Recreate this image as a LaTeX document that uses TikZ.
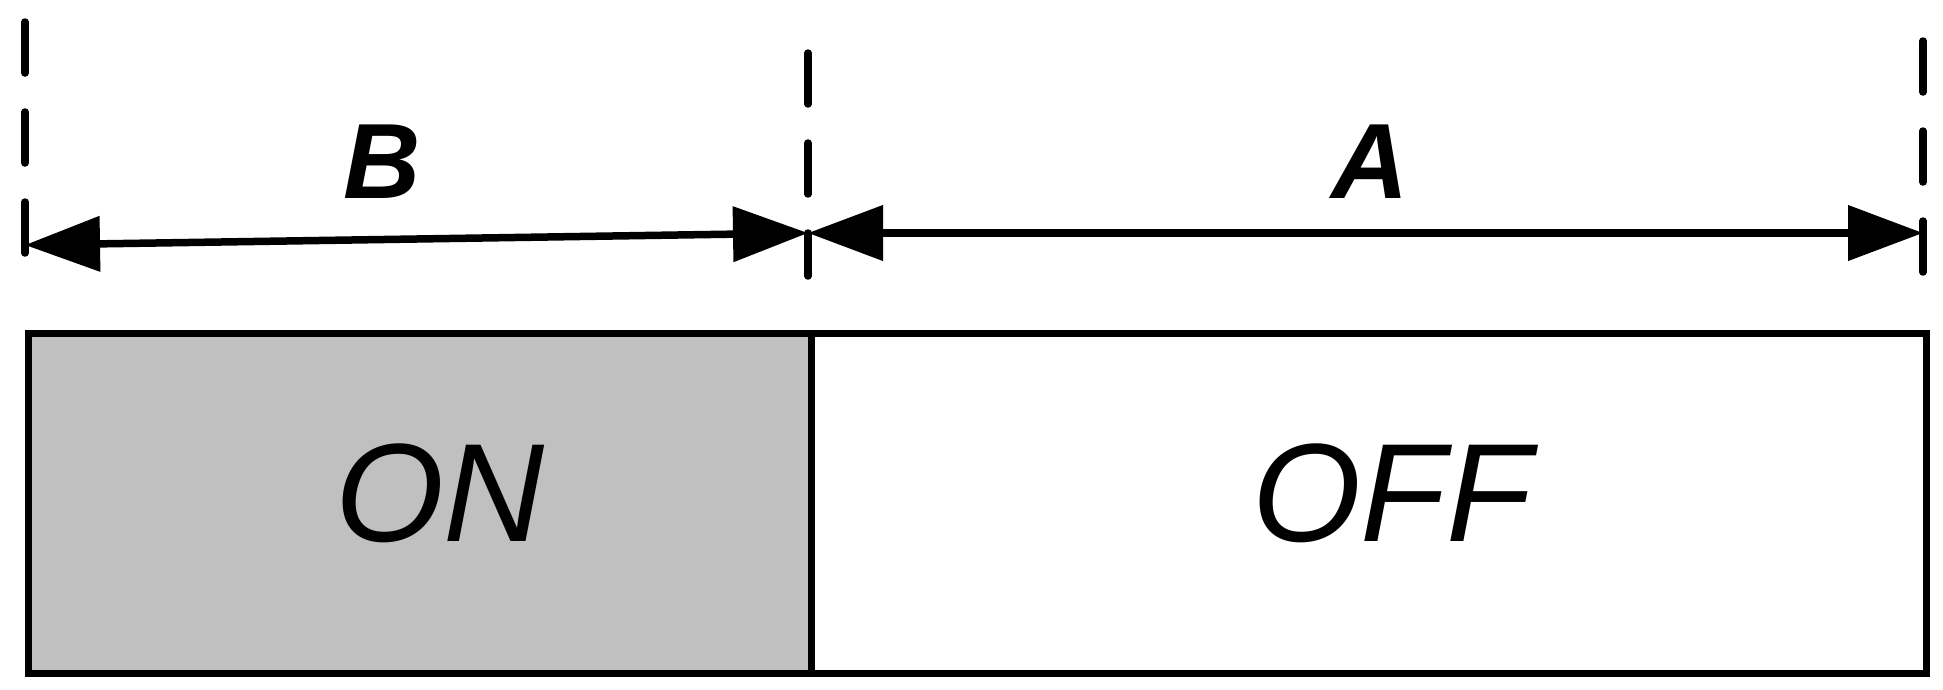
\documentclass[tikz,border=0pt]{standalone}
\usepackage{fontspec}
\setmainfont{Liberation Sans}
\usetikzlibrary{arrows.meta}
\definecolor{onGray}{HTML}{C0C0C0}
\begin{document}
\begin{tikzpicture}[x=1pt,y=-1pt,
  ext/.style={line width=7.5pt, line cap=round, dash pattern=on 51pt off 39pt},
  dim/.style={line width=7.5pt, {Triangle[length=75pt,width=54pt]}-{Triangle[length=75pt,width=54pt]}},
  lbl/.style={inner sep=0pt, font=\fontsize{107}{107}\selectfont\bfseries\itshape},
  big/.style={inner sep=0pt, font=\fontsize{140}{140}\selectfont\itshape},
  boxpart/.style={draw, line width=7pt, anchor=north west, inner sep=0pt, minimum height=340pt},
]
\useasboundingbox (0,0) rectangle (1943,689);
% extension lines
\coordinate (l1) at (25,22);   \coordinate (l2) at (25,253);
\coordinate (m1) at (808,53);  \coordinate (m2) at (808,276);
\coordinate (r1) at (1923,41); \coordinate (r2) at (1923,273);
\draw[ext] (l1) -- (l2);
\draw[ext] (m1) -- (m2);
\draw[ext] (r1) -- (r2);
% dimension arrows
\coordinate (bL) at (25,245);
\coordinate (bR) at (808,233);
\coordinate (aL) at (808,233);
\coordinate (aR) at (1923,233);
\draw[dim] (bL) -- (bR);
\draw[dim] (aL) -- (aR);
\node[lbl] (B) at (382,162) {B};
\node[lbl] (A) at (1370,162) {A};
% bar
\node[boxpart, fill=onGray, minimum width=783pt] (on) at (25,330) {};
\node[boxpart, fill=white, minimum width=1115pt] (off) at (808,330) {};
\node[big] (ONt) at (440,493) {ON};
\node[big] (OFFt) at (1392,493) {OFF};
\end{tikzpicture}
\end{document}
